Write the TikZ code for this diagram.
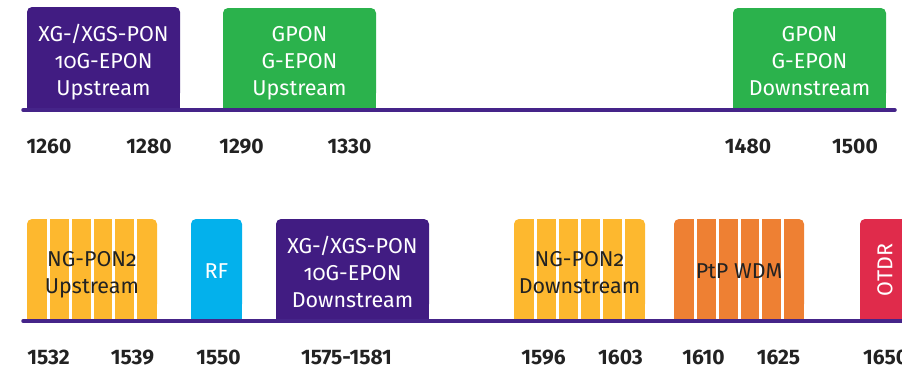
\documentclass[tikz,border=0pt]{standalone}
\usepackage{fontspec}
\setmainfont{Fira Sans}[Numbers=OldStyle]
\newfontfamily\labfont{Fira Sans}[Numbers=Lining]
\definecolor{ppurple}{HTML}{411C82}
\definecolor{pgreen}{HTML}{2BB24C}
\definecolor{pyellow}{HTML}{FDB82F}
\definecolor{porange}{HTML}{EE8033}
\definecolor{pblue}{HTML}{03B1EC}
\definecolor{pred}{HTML}{E02B4B}
\definecolor{pline}{HTML}{452489}
\definecolor{ptext}{HTML}{222222}
\newcommand\band[5]{%
  \fill[#5, rounded corners=5pt] (#1,#3) rectangle (#2,#4-12);
  \fill[#5] (#1,#3+12) rectangle (#2,#4);}
\newcommand\stripes[4]{%
  \foreach \k in {1,...,5} {\fill[white] ({#1+\k*(#2-#1)/6-1.5},#3) rectangle ++(3,{#4-#3});}}
\tikzset{
  boxtxt/.style={font=\fontsize{21.5}{27}\selectfont, align=center, inner sep=0pt, anchor=base},
  lighttxt/.style={boxtxt, text=white},
  darktxt/.style={boxtxt, text=ptext},
  axis/.style={pline, line width=3.5pt, line cap=round},
  wl/.style={font=\labfont\bfseries\fontsize{21}{21}\selectfont, text=ptext, inner sep=0pt, anchor=base}
}
\begin{document}
\begin{tikzpicture}[x=1pt,y=-1pt]
\useasboundingbox (0,0) rectangle (902,368);
% top row bands
\band{27}{180}{7}{110}{ppurple}
\band{223}{376}{8}{110}{pgreen}
\band{733}{886}{8}{110}{pgreen}
% bottom row bands
\band{27}{157}{219}{321}{pyellow}
\stripes{27}{157}{219}{321}
\band{191}{242}{219}{321}{pblue}
\band{276}{429}{219}{321}{ppurple}
\band{514}{645}{219}{321}{pyellow}
\stripes{514}{645}{219}{321}
\band{674}{804}{219}{321}{porange}
\stripes{674}{804}{219}{321}
\band{860}{915}{219}{321}{pred}
% axes
\coordinate (a1) at (23,110); \coordinate (a2) at (895,110);
\coordinate (b1) at (23,321); \coordinate (b2) at (910,321);
\draw[axis] (a1) -- (a2);
\draw[axis] (b1) -- (b2);
% band texts (anchor = baseline of last line)
\node[lighttxt] (t1) at (103.5,95) {XG-/XGS-PON\\10G-EPON\\Upstream};
\node[lighttxt] (t2) at (299.5,95) {GPON\\G-EPON\\Upstream};
\node[lighttxt] (t3) at (809.5,95) {GPON\\G-EPON\\Downstream};
\node[darktxt] (b1t) at (92,293) {NG-PON2\\Upstream};
\node[lighttxt] (b2t) at (216.5,278) {RF};
\node[lighttxt] (b3t) at (352.5,307) {XG-/XGS-PON\\10G-EPON\\Downstream};
\node[darktxt] (b4t) at (579.5,293) {NG-PON2\\Downstream};
\node[darktxt] (b5t) at (739,278) {PtP WDM};
\node[lighttxt, anchor=center, rotate=90] (b6t) at (885,270) {OTDR};
% wavelength labels
\node[wl] (l1260) at (49,153) {1260};
\node[wl] (l1280) at (149,153) {1280};
\node[wl] (l1290) at (241.5,153) {1290};
\node[wl] (l1330) at (349.5,153) {1330};
\node[wl] (l1480) at (748,153) {1480};
\node[wl] (l1500) at (855,153) {1500};
\node[wl] (l1532) at (48.5,364) {1532};
\node[wl] (l1539) at (132.5,364) {1539};
\node[wl] (l1550) at (218.5,364) {1550};
\node[wl] (l1575) at (346.5,364) {1575-1581};
\node[wl] (l1596) at (543.5,364) {1596};
\node[wl] (l1603) at (620.5,364) {1603};
\node[wl] (l1610) at (703.5,364) {1610};
\node[wl] (l1625) at (778.5,364) {1625};
\node[wl, anchor=base west] (l1650) at (863,364) {1650};
\end{tikzpicture}
\end{document}
